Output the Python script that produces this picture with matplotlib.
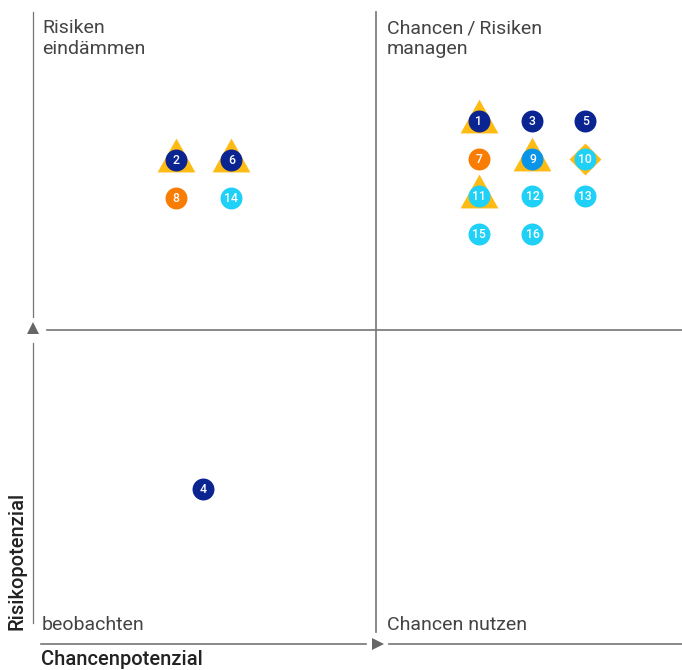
import matplotlib
matplotlib.use("Agg")
from matplotlib import pyplot as plt

plt.rcParams['font.family'] = ['Roboto', 'DejaVu Sans']

# risk items: number, chance potential (x), risk potential (y), colour group, frame shape
ids = [1, 3, 5, 7, 9, 10, 11, 12, 13, 15, 16, 2, 6, 8, 14, 4]
chance = [6.5, 7.28, 8.05, 6.5, 7.28, 8.05, 6.5, 7.28, 8.05, 6.5, 7.28, 2.08, 2.89, 2.08, 2.89, 2.48]
risk = [8.33, 8.33, 8.33, 7.72, 7.72, 7.72, 7.13, 7.13, 7.13, 6.53, 6.53, 7.71, 7.71, 7.10, 7.10, 2.47]
groups = ["navy", "navy", "navy", "orange", "blue", "cyan", "cyan", "cyan", "cyan", "cyan", "cyan",
          "navy", "navy", "orange", "cyan", "navy"]
frames = ["tri", "", "", "", "tri", "dia", "tri", "", "", "", "", "tri", "tri", "", "", ""]

quadrants = ["Risiken\neindämmen", "Chancen\u2009/\u2009Risiken\nmanagen", "beobachten", "Chancen nutzen"]
x_label = "Chancenpotenzial"
y_label = "Risikopotenzial"

colors = {"navy": "#0a2491", "orange": "#f97d05", "blue": "#0b95e8", "cyan": "#1fd0f7"}
yellow = "#fdbb14"
line_c = "#767676"
text_c = "#444444"

fig = plt.figure(figsize=(6.82, 6.70), dpi=100)
ax = fig.add_axes([0, 0, 1, 1])
ax.set_xlim(-0.481, 9.46)
ax.set_ylim(-0.414, 10.255)
ax.axis("off")

# quadrant lines and arrows
ax.plot([0, 0], [0.33, 4.79], color=line_c, lw=0.9)
ax.plot([0, 0], [5.21, 10.06], color=line_c, lw=0.9)
ax.plot([0.2, 9.46], [5, 5], color=line_c, lw=1.2)
ax.plot([5, 5], [0.19, 10.06], color=line_c, lw=1.2)
ax.plot([0.12, 4.85], [0, 0], color=line_c, lw=1.2)
ax.plot([5.19, 9.46], [0, 0], color=line_c, lw=1.2)
ax.plot(0, 5.03, marker="^", color="#666666", ms=8.5, mew=0)
ax.plot(5.03, 0, marker=">", color="#666666", ms=8.5, mew=0)

# shapes behind the dots
tri = [(0, 22), (-19, -12), (19, -12)]
dia = [(0, 1), (1, 0), (0, -1), (-1, 0)]
for x, y, f in zip(chance, risk, frames):
    if f == "tri":
        ax.plot(x, y, marker=tri, color=yellow, ms=31.5, mew=0, zorder=3)
    elif f == "dia":
        ax.plot(x, y, marker=dia, color=yellow, ms=23, mew=0, zorder=3)

for i, x, y, g in zip(ids, chance, risk, groups):
    ax.plot(x, y, marker="o", color=colors[g], ms=15.8, mew=0, zorder=4)
    ax.text(x, y - 0.01, str(i), color="white", fontsize=8.8, fontweight="medium",
            ha="center", va="center", zorder=5)

# quadrant titles
ax.text(0.13, 9.95, quadrants[0], color=text_c, fontsize=14, va="top", ha="left", linespacing=1.2)
ax.text(5.16, 9.95, quadrants[1], color=text_c, fontsize=14, va="top", ha="left", linespacing=1.2)
ax.text(0.13, 0.22, quadrants[2], color=text_c, fontsize=14, va="baseline", ha="left")
ax.text(5.16, 0.22, quadrants[3], color=text_c, fontsize=14, va="baseline", ha="left")

ax.text(0.12, -0.34, x_label, color="#222222", fontsize=14.5, fontweight="medium", va="baseline", ha="left")
ax.text(-0.16, 0.22, y_label, color="#222222", fontsize=14.5, fontweight="medium", rotation=90,
        va="baseline", ha="left", rotation_mode="anchor")

plt.savefig("out.png", dpi=100)
